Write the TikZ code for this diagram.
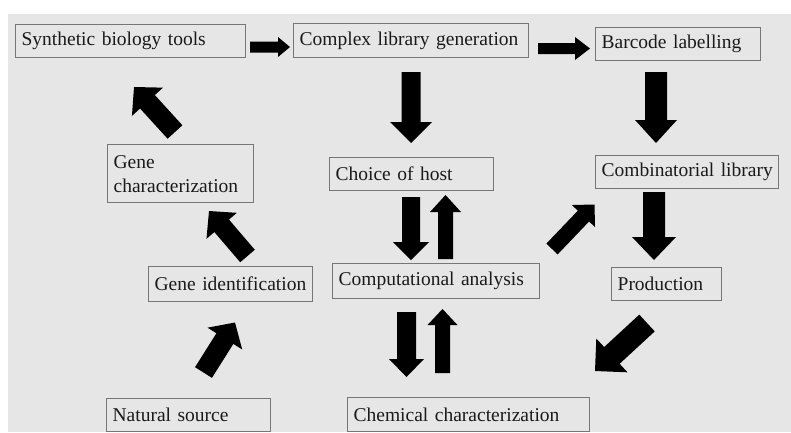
\documentclass[tikz,border=0pt]{standalone}
\usepackage{fontspec}
\setmainfont{Liberation Serif}[WordSpace={0.75,0,0}]
\usetikzlibrary{calc}
\hyphenpenalty=10000
\definecolor{bggray}{HTML}{E6E6E6}
\definecolor{boxgray}{HTML}{767676}
\definecolor{txtgray}{HTML}{1A1A1A}
\newcommand{\myblockarrow}[5]{%
  \path ($(#2)!#5!(#1)$) coordinate (hb);
  \fill[arrowfill] ($(#1)!#3!90:(#2)$) -- ($(hb)!#3!90:(#2)$) -- ($(hb)!#4!90:(#2)$) -- (#2)
    -- ($(hb)!#4!-90:(#2)$) -- ($(hb)!#3!-90:(#2)$) -- ($(#1)!#3!-90:(#2)$) -- cycle;
}
\begin{document}
\begin{tikzpicture}[x=1pt,y=-1pt,
  box/.style={draw=boxgray, line width=1.3pt, inner xsep=6pt, inner ysep=0pt,
    align=left, anchor=north west, text=txtgray,
    font=\fontsize{19.5}{24}\selectfont},
  arrowfill/.style={fill=black}]
\useasboundingbox (0,0) rectangle (791,432);
\fill[white] (0,0) rectangle (791,432);
\fill[bggray] (8,14) rectangle (791,432);

\node[box, text width=218pt, minimum height=33pt] (syn) at (15,24) {Synthetic biology tools};
\node[box, text width=223pt, minimum height=34pt] (cplx) at (293,23) {Complex library generation};
\node[box, text width=153pt, minimum height=33pt] (bar) at (595,27) {Barcode labelling};
\node[box, text width=134pt, minimum height=58pt] (gchar) at (107,144) {Gene\\characterization};
\node[box, text width=152pt, minimum height=33pt] (host) at (329,157) {Choice of host};
\node[box, text width=171pt, minimum height=33pt] (comb) at (595,155) {\mbox{Combinatorial library}};
\node[box, text width=152pt, minimum height=35pt] (gid) at (148,266) {Gene identification};
\node[box, text width=195pt, minimum height=35pt] (comp) at (332,263) {Computational analysis};
\node[box, text width=98pt, minimum height=33pt] (prod) at (611,267) {Production};
\node[box, text width=152pt, minimum height=33pt] (nat) at (106,398) {Natural source};
\node[box, text width=230pt, minimum height=34pt] (chem) at (347,397) {Chemical characterization};

% arrow end points
\coordinate (a1s) at (250,47);    \coordinate (a1e) at (290,47);
\coordinate (a2s) at (538,48.5);  \coordinate (a2e) at (590,48.5);
\coordinate (a3s) at (411,72);    \coordinate (a3e) at (411,143);
\coordinate (a4s) at (656,72);    \coordinate (a4e) at (656,143);
\coordinate (a5s) at (411,197);   \coordinate (a5e) at (411,260);
\coordinate (a6s) at (445.5,259); \coordinate (a6e) at (445.5,195);
\coordinate (a7s) at (406.5,312); \coordinate (a7e) at (406.5,377);
\coordinate (a8s) at (442.5,373); \coordinate (a8e) at (442.5,309);
\coordinate (a9s) at (654,192);   \coordinate (a9e) at (654,260);
\coordinate (a10s) at (175,132);  \coordinate (a10e) at (134,87);
\coordinate (a11s) at (247.5,256);\coordinate (a11e) at (209,211);
\coordinate (a12s) at (203.5,372.5); \coordinate (a12e) at (235,322.5);
\coordinate (a13s) at (552,249);  \coordinate (a13e) at (594.5,204.5);
\coordinate (a14s) at (647,323);  \coordinate (a14e) at (595,371);

\myblockarrow{a1s}{a1e}{5.5pt}{10pt}{12pt}
\myblockarrow{a2s}{a2e}{5.5pt}{11.5pt}{15pt}
\myblockarrow{a3s}{a3e}{9.5pt}{21pt}{21pt}
\myblockarrow{a4s}{a4e}{11pt}{21pt}{23pt}
\myblockarrow{a5s}{a5e}{9pt}{18pt}{18pt}
\myblockarrow{a6s}{a6e}{7.5pt}{15.5pt}{17pt}
\myblockarrow{a7s}{a7e}{9.5pt}{17.5pt}{18pt}
\myblockarrow{a8s}{a8e}{7.5pt}{15pt}{16pt}
\myblockarrow{a9s}{a9e}{11pt}{22pt}{23pt}
\myblockarrow{a10s}{a10e}{10pt}{21pt}{20pt}
\myblockarrow{a11s}{a11e}{9.6pt}{20pt}{19.5pt}
\myblockarrow{a12s}{a12e}{10pt}{20.5pt}{19pt}
\myblockarrow{a13s}{a13e}{7.8pt}{16pt}{16pt}
\myblockarrow{a14s}{a14e}{11.4pt}{23pt}{23pt}
\end{tikzpicture}
\end{document}
